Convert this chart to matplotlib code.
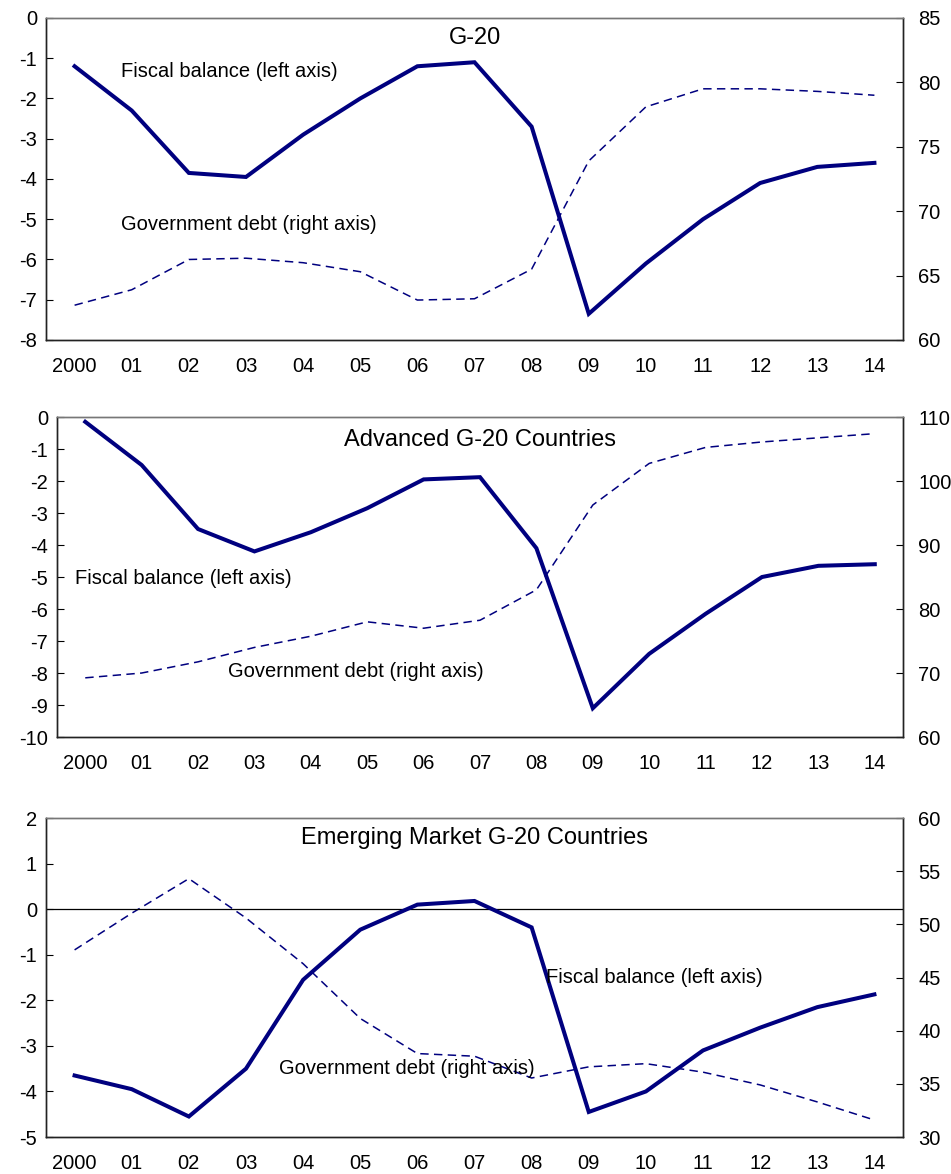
import matplotlib
matplotlib.use("Agg")
import matplotlib.pyplot as plt

plt.rcParams["font.family"] = ["Liberation Sans", "DejaVu Sans"]
plt.rcParams["axes.unicode_minus"] = False

YEARS = ["2000", "01", "02", "03", "04", "05", "06", "07", "08", "09", "10", "11", "12", "13", "14"]

# G-20
G20_FISCAL = [-1.2, -2.3, -3.85, -3.95, -2.9, -2.0, -1.2, -1.1, -2.7, -7.35, -6.1, -5.0, -4.1, -3.7, -3.6]
G20_DEBT = [62.7, 63.9, 66.25, 66.35, 66.0, 65.3, 63.1, 63.2, 65.5, 73.9, 78.1, 79.5, 79.5, 79.3, 79.0]

# Advanced G-20
ADV_FISCAL = [-0.15, -1.5, -3.5, -4.2, -3.6, -2.85, -1.95, -1.88, -4.1, -9.1, -7.4, -6.15, -5.0, -4.65, -4.6]
ADV_DEBT = [69.25, 70.0, 71.75, 74.0, 75.75, 78.0, 77.0, 78.25, 83.0, 96.25, 102.75, 105.25, 106.1, 106.75, 107.4]

# Emerging market G-20
EM_FISCAL = [-3.65, -3.95, -4.55, -3.5, -1.55, -0.45, 0.1, 0.18, -0.4, -4.45, -4.0, -3.1, -2.6, -2.15, -1.87]
EM_DEBT = [47.6, 51.05, 54.3, 50.6, 46.3, 41.15, 37.85, 37.6, 35.55, 36.6, 36.9, 36.1, 34.9, 33.3, 31.6]

NAVY = "#00007f"

PANELS = [
    dict(title="G-20", fiscal=G20_FISCAL, debt=G20_DEBT,
         left=(-8, 0, 1), right=(60, 85, 5),
         rect=[0.0484, 0.7104, 0.9011, 0.2743],
         title_pos=(7.0, -0.5), fb_pos=(0.82, -1.32), gd_pos=(0.82, -5.12),
         zero=False),
    dict(title="Advanced G-20 Countries", fiscal=ADV_FISCAL, debt=ADV_DEBT,
         left=(-10, 0, 1), right=(60, 110, 10),
         rect=[0.060, 0.3722, 0.8895, 0.2726],
         title_pos=(7.0, -0.72), fb_pos=(-0.18, -5.06), gd_pos=(2.54, -7.94),
         zero=False),
    dict(title="Emerging Market G-20 Countries", fiscal=EM_FISCAL, debt=EM_DEBT,
         left=(-5, 2, 1), right=(30, 60, 5),
         rect=[0.0484, 0.0315, 0.9011, 0.2717],
         title_pos=(7.0, 1.56), fb_pos=(8.25, -1.49), gd_pos=(3.58, -3.49),
         zero=True),
]


def draw_panel(fig, p):
    ax = fig.add_axes(p["rect"])
    ax2 = ax.twinx()
    x = list(range(len(YEARS)))

    lo, hi, step = p["left"]
    ax.set_ylim(lo, hi)
    ax.set_yticks(range(lo, hi + 1, step))
    rlo, rhi, rstep = p["right"]
    ax2.set_ylim(rlo, rhi)
    ax2.set_yticks(range(rlo, rhi + 1, rstep))

    ax.set_xlim(-0.5, 14.5)
    ax.set_xticks(x)
    ax.set_xticklabels(YEARS)

    if p["zero"]:
        ax.axhline(0, color="black", linewidth=0.9, zorder=1)

    ax2.plot(x, p["debt"], color=NAVY, linewidth=1.1, linestyle=(0, (5.5, 3.5)))
    ax.plot(x, p["fiscal"], color=NAVY, linewidth=2.9, solid_joinstyle="miter", zorder=3)
    ax.set_zorder(ax2.get_zorder() + 1)
    ax.patch.set_visible(False)

    ax.tick_params(axis="x", length=0, pad=12, labelsize=14.5)
    ax.tick_params(axis="y", direction="in", length=5, labelsize=14.5, pad=6.5)
    ax2.tick_params(axis="y", direction="in", length=5, labelsize=14.5, pad=11)
    for a in (ax, ax2):
        for s in a.spines.values():
            s.set_color("#222222")
            s.set_linewidth(1.0)
        a.spines["top"].set_color("#777777")

    ax.text(*p["title_pos"], p["title"], ha="center", va="center", fontsize=17)
    ax.text(*p["fb_pos"], "Fiscal balance (left axis)", ha="left", va="center", fontsize=14.5)
    ax.text(*p["gd_pos"], "Government debt (right axis)", ha="left", va="center", fontsize=14.5)


fig = plt.figure(figsize=(9.51, 11.74), dpi=100)
for p in PANELS:
    draw_panel(fig, p)
fig.savefig("out.png", dpi=100)
